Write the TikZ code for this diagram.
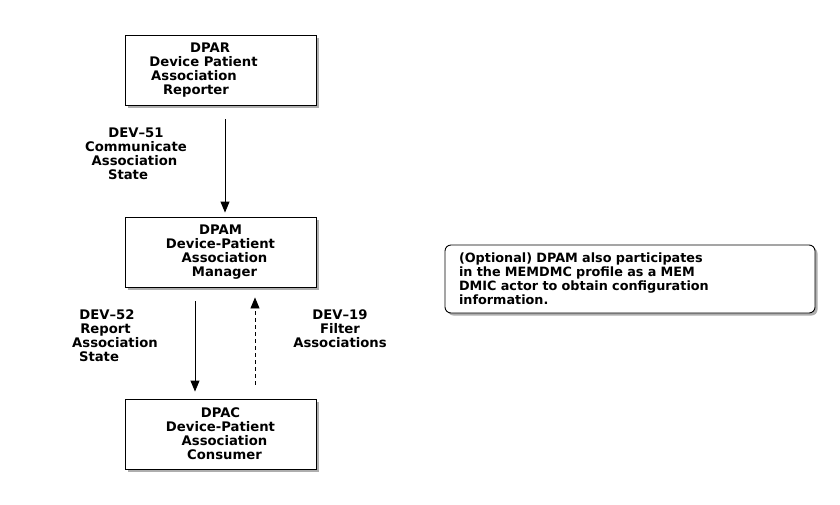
\documentclass[tikz,border=0pt]{standalone}
\usepackage{fontspec}
\setmainfont{DejaVu Sans}
\usetikzlibrary{shadows,arrows.meta}
\newcommand\shl[2]{\hspace*{#1pt}#2}
\begin{document}
\begin{tikzpicture}[x=1pt,y=-1pt,
  boxshadow/.style={drop shadow={shadow xshift=2.5pt, shadow yshift=-2.5pt, opacity=0.45, fill=black!70}},
  actor/.style={draw, line width=0.9pt, fill=white, minimum width=191pt, minimum height=70pt,
    inner sep=0pt, align=center, font=\fontsize{13.2}{14}\selectfont\bfseries, boxshadow},
  note/.style={draw, line width=0.9pt, fill=white, rounded corners=6pt, minimum width=370pt,
    minimum height=68pt, inner xsep=14pt, inner ysep=0pt, text width=342pt, align=left,
    font=\fontsize{12.8}{14}\selectfont\bfseries, boxshadow},
  lbl/.style={align=center, inner sep=0pt, font=\fontsize{13.2}{14}\selectfont\bfseries},
  arr/.style={line width=0.9pt, -{Triangle[length=11pt,width=9pt]}},
  dasharr/.style={arr, dash pattern=on 4pt off 3pt}
]
\useasboundingbox (0,0) rectangle (840,504);
\node[actor] (dpar) at (220.5,70) {\shl{-21}{DPAR}\\\shl{-34}{Device Patient}\\\shl{-53}{Association}\\\shl{-49}{Reporter}};
\node[actor] (dpam) at (220.5,252) {DPAM\\Device-Patient\\\shl{8}{Association}\\\shl{8}{Manager}};
\node[actor] (dpac) at (220.5,434) {DPAC\\Device-Patient\\\shl{8}{Association}\\\shl{8}{Consumer}};
\node[note] (opt) at (630,279) {(Optional) DPAM also participates\\in the MEMDMC profile as a MEM\\DMIC actor to obtain configuration\\information.};

\draw[arr, shorten <=14pt, shorten >=4pt] ([xshift=4.5pt]dpar.south) -- ([xshift=4.5pt]dpam.north);
\draw[arr, shorten <=14pt, shorten >=7pt] ([xshift=-25.5pt]dpam.south) -- ([xshift=-25.5pt]dpac.north);
\draw[dasharr, shorten <=14pt, shorten >=10pt] ([xshift=34.5pt]dpac.north) -- ([xshift=34.5pt]dpam.south);

\node[lbl] (l51) at (136,154) {DEV–51\\Communicate\\\shl{-3}{Association}\\\shl{-16}{State}};
\node[lbl] (l52) at (107,336) {DEV–52\\\shl{-3}{Report}\\\shl{16}{Association}\\\shl{-16}{State}};
\node[lbl] (l19) at (340,329) {DEV–19\\Filter\\Associations};
\end{tikzpicture}
\end{document}
